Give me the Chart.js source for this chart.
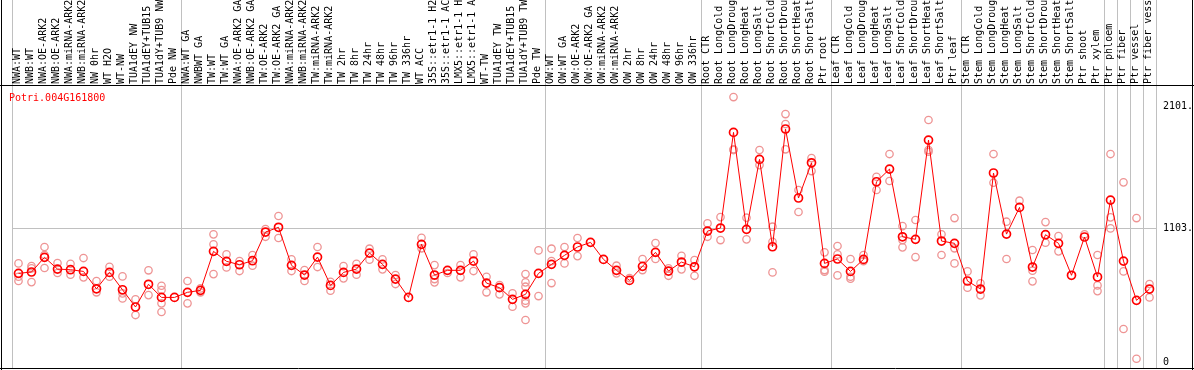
<!DOCTYPE html>
<html><head><meta charset="utf-8">
<script src="https://cdn.jsdelivr.net/npm/chart.js@4"></script>
<style>html,body{margin:0;padding:0;background:#fff}#wrap{width:1194px;height:370px;overflow:hidden}canvas{display:block}</style>
</head><body><div id="wrap"><canvas id="c" width="1194" height="370"></canvas></div>
<script>
const geneName = 'Potri.004G161800';
const categories = [
 'NWA:WT','NWB:WT','NWA:OE-ARK2','NWB:OE-ARK2','NWA:miRNA-ARK2','NWB:miRNA-ARK2','NW 0hr','WT H2O','WT-NW','TUA1dEY NW',
 'TUA1dEY+TUB15','TUA1dY+TUB9 NW','Pde NW','NWA:WT GA','NWBWT GA','TW:WT','TW:WT GA','NWA:OE-ARK2 GA','NWB:OE-ARK2 GA','TW:OE-ARK2',
 'TW:OE-ARK2 GA','NWA:miRNA-ARK2','NWB:miRNA-ARK2','TW:miRNA-ARK2','TW:miRNA-ARK2','TW 2hr','TW 8hr','TW 24hr','TW 48hr','TW 96hr',
 'TW 336hr','WT ACC','35S::etr1-1 H2O','35S::etr1-1 ACC','LMX5::etr1-1 H2O','LMX5::etr1-1 ACC','WT-TW','TUA1dEY TW','TUA1dEY+TUB15','TUA1dY+TUB9 TW',
 'Pde TW','OW:WT','OW:WT GA','OW:OE-ARK2','OW:OE-ARK2 GA','OW:miRNA-ARK2','OW:miRNA-ARK2','OW 2hr','OW 8hr','OW 24hr',
 'OW 48hr','OW 96hr','OW 336hr','Root CTR','Root LongCold','Root LongDrought','Root LongHeat','Root LongSalt','Root ShortCold','Root ShortDrought',
 'Root ShortHeat','Root ShortSalt','Ptr root','Leaf CTR','Leaf LongCold','Leaf LongDrought','Leaf LongHeat','Leaf LongSalt','Leaf ShortCold','Leaf ShortDrought',
 'Leaf ShortHeat','Leaf ShortSalt','Ptr leaf','Stem CTR','Stem LongCold','Stem LongDrought','Stem LongHeat','Stem LongSalt','Stem ShortCold','Stem ShortDrought',
 'Stem ShortHeat','Stem ShortSalt','Ptr shoot','Ptr xylem','Ptr phloem','Ptr fiber','Ptr vessel','Ptr fiber vessel'
];
const means = [
 730, 741, 862, 765, 760, 746, 603, 738, 595, 453,
 640, 532, 532, 574, 590, 911, 829, 801, 834, 1070,
 1109, 796, 716, 864, 631, 738, 765, 897, 804, 683,
 532, 969, 716, 755, 755, 831, 650, 612, 516, 557,
 730, 804, 878, 947, 985, 845, 755, 672, 788, 903,
 749, 823, 784, 1078, 1103, 1890, 1092, 1668, 949, 1918,
 1350, 1640, 812, 848, 746, 845, 1484, 1588, 1031, 1010,
 1827, 996, 977, 667, 601, 1556, 1053, 1273, 782, 1048,
 977, 714, 1029, 700, 1333, 831, 508, 601
];
const replicates = [
 [812,702,667],[790,771,658],[947,881,774],[815,733],[809,719],[856,697],[667,574],[784,702],[705,565,524],[516,387],
 [755,551],[628,593,483,412],[],[667,483],[606,574],[1051,969,724],[886,779],[831,749],[881,793],[1095,1031],
 [1202,1021],[845,749],[757,667],[947,782],[661,587],[790,689],[809,719],[933,842],[845,763],[716,642],
 [],[1023,936],[798,683,656],[733],[798,697],[886,749],[702,574],[634,557],[565,455],[724,656,620,505,483,346],
 [919,543],[933,831,650],[947,812],[1021,872],[],[],[793,730],[691],[848,757],[979,848],
 [771,710],[875,763],[839,710],[1141,1031],[1193,1004],[2181,1751,1745],[1188,1010],[1745,1621],[1114,990,738],[2041,1959,1751],
 [1416,1235],[1679,1572],[903,757,743],[955,886,713],[848,702,686],[881,831],[1525,1416],[1712,1490],[1119,1004,944],[1169,864],
 [1992,1745,1731],[1051,881],[1185,936,812],[746,612],[648,549],[1712,1476],[1155,848],[1328],[922,752,664],[1152,982],
 [1037,911],[],[1051],[881,631,584],[1712,1191,1100],[1479,746,272],[1185,27],[642,532]
];
const yTickValues = [0, 1103, 2101];
const yTickLabels = ['0', '1103.', '2101.'];
const groupBoundaries = [0, 13, 41, 53, 63, 73, 84, 85, 86, 87, 88];

const FONT = {family: '"DejaVu Sans Mono", monospace', size: 10};
const GRID = '#c0c0c0';
const replicatePoints = [];
replicates.forEach((arr, i) => arr.forEach(v => replicatePoints.push({x: i, y: v})));

const framePlugin = {
  id: 'frame',
  beforeDraw(chart) {
    const {ctx, chartArea, scales} = chart;
    ctx.save();
    ctx.fillStyle = '#fff';
    ctx.fillRect(0, 0, chart.width, chart.height);
    ctx.strokeStyle = GRID; ctx.lineWidth = 1;
    groupBoundaries.forEach(b => {
      const px = Math.round(scales.x2.getPixelForValue(b - 0.5)) + 0.5;
      ctx.beginPath(); ctx.moveTo(px, 0); ctx.lineTo(px, chartArea.top); ctx.stroke();
    });
    ctx.restore();
  },
  afterDraw(chart) {
    const {ctx, chartArea} = chart;
    ctx.save();
    ctx.strokeStyle = '#000'; ctx.lineWidth = 1;
    ctx.beginPath();
    ctx.moveTo(0, chartArea.top - 0.5); ctx.lineTo(chart.width, chartArea.top - 0.5);
    ctx.moveTo(0, chartArea.bottom + 0.5); ctx.lineTo(chart.width, chartArea.bottom + 0.5);
    ctx.moveTo(1.5, 0); ctx.lineTo(1.5, chart.height);
    ctx.moveTo(chart.width - 1.5, 0); ctx.lineTo(chart.width - 1.5, chart.height);
    ctx.stroke();
    ctx.fillStyle = '#ff0000';
    ctx.font = '10px "DejaVu Sans Mono", monospace';
    ctx.textBaseline = 'middle';
    ctx.fillText(geneName, 9, 98);
    ctx.restore();
  }
};

new Chart(document.getElementById('c'), {
  type: 'line',
  data: {
    labels: categories,
    datasets: [
      {
        type: 'line', label: 'mean', data: means, xAxisID: 'x', yAxisID: 'y',
        borderColor: '#ff0000', borderWidth: 1, tension: 0,
        pointRadius: 4, pointBorderWidth: 1.7, pointBorderColor: '#ff0000',
        pointBackgroundColor: 'rgba(0,0,0,0)', order: 1
      },
      {
        type: 'scatter', label: 'replicates', data: replicatePoints, xAxisID: 'x2', yAxisID: 'y',
        showLine: false, pointRadius: 3.7, pointBorderWidth: 1.3,
        pointBorderColor: '#ee9494', pointBackgroundColor: 'rgba(0,0,0,0)', order: 2
      }
    ]
  },
  options: {
    responsive: false, animation: false, devicePixelRatio: 1,
    layout: {autoPadding: false, padding: {left: 12, right: 0, top: 0, bottom: 2}},
    plugins: {legend: {display: false}, tooltip: {enabled: false}, title: {display: false}},
    scales: {
      x: {
        type: 'category', position: 'top', offset: true,
        grid: {offset: true, drawTicks: false, lineWidth: 1,
          color: c => (c.type !== 'tick' || groupBoundaries.includes(c.index)) ? GRID : 'rgba(0,0,0,0)'},
        border: {display: false},
        ticks: {autoSkip: false, minRotation: 90, maxRotation: 90, font: FONT, color: '#000', padding: 2, labelOffset: 11},
        afterFit: s => { s.height = 86; s.paddingLeft = 0; s.paddingRight = 0; }
      },
      x2: {type: 'linear', display: false, min: -0.5, max: 87.5},
      y: {
        type: 'linear', position: 'right', min: -49, max: 2272,
        afterBuildTicks: s => { s.ticks = yTickValues.map(v => ({value: v})); },
        ticks: {font: FONT, color: '#000', padding: 7,
          callback: v => yTickLabels[yTickValues.indexOf(v)]},
        grid: {drawTicks: false, color: c => (c.tick && c.tick.value === 1103) ? GRID : 'rgba(0,0,0,0)'},
        border: {display: false},
        afterFit: s => { s.width = 38; s.paddingTop = 0; s.paddingBottom = 0; }
      }
    }
  },
  plugins: [framePlugin]
});
</script>
</body></html>
